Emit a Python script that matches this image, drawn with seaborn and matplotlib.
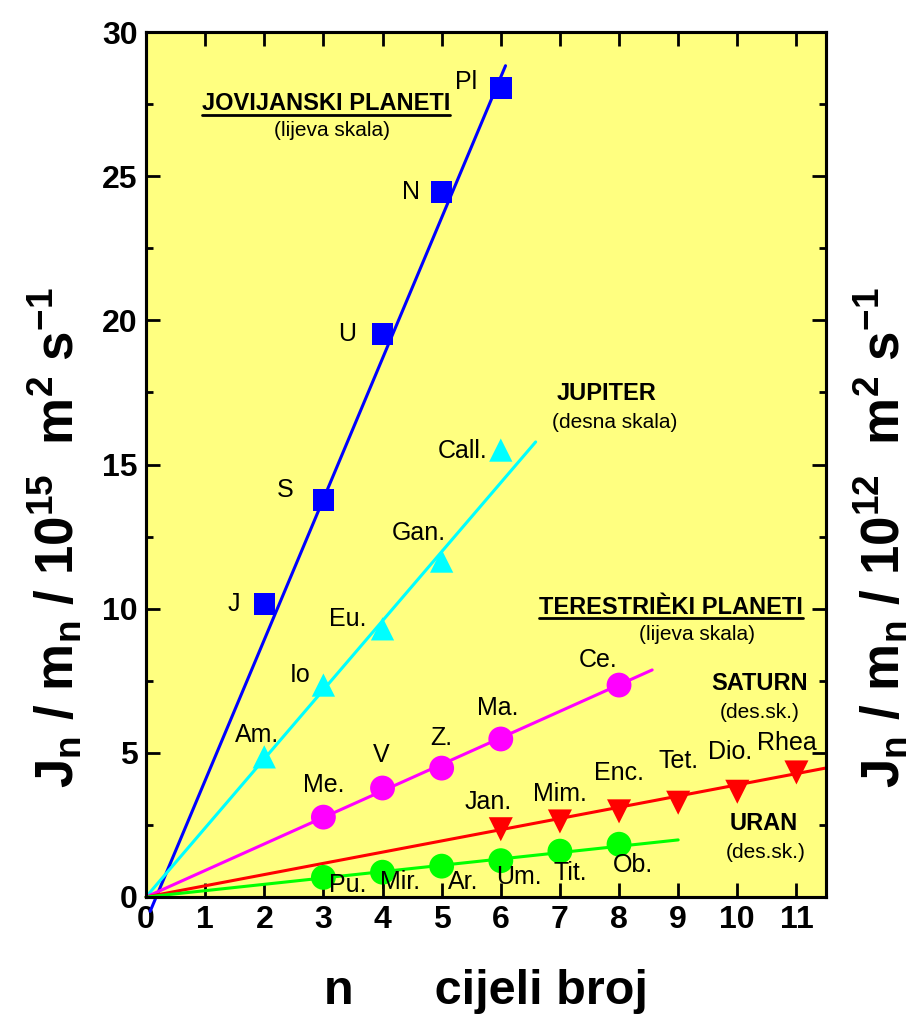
import numpy as np
import pandas as pd
import matplotlib
matplotlib.use("Agg")
import matplotlib.pyplot as plt
import seaborn as sns
from matplotlib.lines import Line2D
from matplotlib.transforms import IdentityTransform

# ---------------- data ----------------
jov_n = [2, 3, 4, 5, 6]
jov_v = [10.16, 13.77, 19.53, 24.45, 28.06]
jov_lab = ["J", "S", "U", "N", "Pl"]

jup_n = [2, 3, 4, 5, 6]
jup_v = [4.86, 7.35, 9.30, 11.65, 15.50]
jup_lab = ["Am.", "Io", "Eu.", "Gan.", "Call."]

ter_n = [3, 4, 5, 6, 8]
ter_v = [2.77, 3.78, 4.47, 5.48, 7.35]
ter_lab = ["Me.", "V", "Z.", "Ma.", "Ce."]

sat_n = [6, 7, 8, 9, 10, 11]
sat_v = [2.35, 2.62, 2.97, 3.27, 3.65, 4.32]
sat_lab = ["Jan.", "Mim.", "Enc.", "Tet.", "Dio.", "Rhea"]

ura_n = [3, 4, 5, 6, 7, 8]
ura_v = [0.68, 0.86, 1.07, 1.26, 1.59, 1.83]
ura_lab = ["Pu.", "Mir.", "Ar.", "Um.", "Tit.", "Ob."]

# fitted lines: slope, intercept, x-range
fit_slope = [4.88, 2.395, 0.92, 0.389, 0.22]
fit_icpt = [-0.84, 0.0, 0.0, 0.0, 0.0]
fit_x0 = [0.07, 0.0, 0.0, 0.0, 0.0]
fit_x1 = [6.08, 6.59, 8.56, 11.5, 9.0]

x_ticks = list(range(0, 12))
y_ticks = [0, 5, 10, 15, 20, 25, 30]

# ---------------- style ----------------
sns.set_style("ticks")
plt.rcParams['font.family'] = ['Liberation Sans', 'DejaVu Sans']
plt.rcParams['mathtext.fontset'] = 'custom'
plt.rcParams['mathtext.rm'] = 'Liberation Sans'
plt.rcParams['mathtext.bf'] = 'Liberation Sans:bold'
plt.rcParams['mathtext.it'] = 'Liberation Sans:italic'
for k in ['text.color', 'axes.labelcolor', 'xtick.color', 'ytick.color',
          'axes.edgecolor']:
    plt.rcParams[k] = 'black'

colors = ["#0000FF", "#00FFFF", "#FF00FF", "#FF0000", "#00FF00"]
markers = ["s", "^", "o", "v", "o"]
msizes = [240, 280, 320, 300, 320]

fig = plt.figure(figsize=(9.23, 10.18), dpi=100)
ax = fig.add_axes([146/923, 1-897/1018, (826-146)/923, (897-32)/1018])
ax.set_facecolor("#FFFF80")

groups = [
    (jov_n, jov_v, jov_lab),
    (jup_n, jup_v, jup_lab),
    (ter_n, ter_v, ter_lab),
    (sat_n, sat_v, sat_lab),
    (ura_n, ura_v, ura_lab),
]

# fit lines
for i in range(5):
    xs = np.array([fit_x0[i], fit_x1[i]])
    ys = fit_slope[i] * xs + fit_icpt[i]
    df_l = pd.DataFrame({"x": xs, "y": ys})
    sns.lineplot(data=df_l, x="x", y="y", ax=ax, color=colors[i], lw=2.2,
                 zorder=3)
for ln in ax.get_lines():
    ln.set_clip_on(False)

# markers
for i, (xn, yv, labs) in enumerate(groups):
    df = pd.DataFrame({"n": xn, "v": yv})
    sns.scatterplot(data=df, x="n", y="v", ax=ax, marker=markers[i],
                    s=msizes[i], color=colors[i], edgecolor="none",
                    linewidth=0, zorder=4)

# point labels (pixel offsets dx, dy; image-y down)
offs = [
    [(-30, 0), (-38, -10), (-35, 0), (-31, 0), (-35, -6)],
    [(-7, -22), (-23, -10), (-35, -10), (-23, -28), (-38, 1)],
    [(0, -32), (-1, -33), (0, -30), (-3, -31), (-21, -25)],
    [(-13, -27), (0, -27), (0, -38), (0, -42), (-7, -40), (-10, -29)],
    [(24, 8), (18, 10), (22, 16), (18, 16), (10, 22), (14, 21)],
]
for i, (xn, yv, labs) in enumerate(groups):
    for j in range(len(xn)):
        dx, dy = offs[i][j]
        ax.annotate(labs[j], (xn[j], yv[j]), xytext=(dx*0.72, -dy*0.72),
                    textcoords="offset points", ha="center", va="center",
                    fontsize=18, zorder=6)

# group titles
titles = [
    ("JOVIJANSKI PLANETI", "(lijeva skala)", 326, 104, 332, 130, True),
    ("JUPITER", "(desna skala)", 607, 393, 615, 423, False),
    ("TERESTRIÈKI PLANETI", "(lijeva skala)", 671, 607, 697, 635, True),
    ("SATURN", "(des.sk.)", 760, 684, 760, 712, False),
    ("URAN", "(des.sk.)", 764, 824, 766, 853, False),
]
title_texts = []
for t1, t2, x1, y1, x2, y2, ul in titles:
    tt = fig.text(x1/923, 1-y1/1018, t1, ha="center", va="center",
                  fontsize=17, fontweight="bold", zorder=7)
    fig.text(x2/923, 1-y2/1018, t2, ha="center", va="center", fontsize=15,
             zorder=7)
    if ul:
        title_texts.append(tt)

# axes
ax.set_xlim(0, 11.5)
ax.set_ylim(0, 30)
ax.set_xticks(x_ticks)
ax.set_yticks(y_ticks)
ax.set_yticks(np.arange(2.5, 30, 5), minor=True)
ax.tick_params(axis="both", which="major", direction="in", length=10, width=2,
               labelsize=23, top=True, right=True, pad=6)
ax.tick_params(axis="y", which="minor", direction="in", length=5, width=2,
               right=True, left=True)
for lab in ax.get_xticklabels() + ax.get_yticklabels():
    lab.set_fontweight("bold")
for sp in ax.spines.values():
    sp.set_linewidth(2.2)
    sp.set_visible(True)

ax.set_xlabel("n      cijeli broj", fontsize=35, fontweight="bold", labelpad=24)
ax.set_ylabel(r"$\mathbf{J_n\ /\ m_n\ /\ 10^{15}\ \ m^2\ s^{-1}}$",
              fontsize=38)
ax.yaxis.set_label_coords(-0.09, 0.416)

ax2 = ax.twinx()
ax2.set_ylim(0, 30)
ax2.set_yticks(y_ticks)
ax2.set_yticks(np.arange(2.5, 30, 5), minor=True)
ax2.tick_params(axis="y", which="major", direction="in", length=10, width=2,
                labelright=False)
ax2.tick_params(axis="y", which="minor", direction="in", length=5, width=2)
ax2.set_ylabel(r"$\mathbf{J_n\ /\ m_n\ /\ 10^{12}\ \ m^2\ s^{-1}}$",
               fontsize=38)
ax2.yaxis.set_label_coords(1.038, 0.416)
for sp in ax2.spines.values():
    sp.set_linewidth(2.2)

# underline titles
fig.canvas.draw()
r = fig.canvas.get_renderer()
for tt in title_texts:
    bb = tt.get_window_extent(renderer=r)
    fig.add_artist(Line2D([bb.x0, bb.x1], [bb.y0 + 1, bb.y0 + 1],
                          transform=IdentityTransform(), color="black", lw=2))

fig.savefig("out.png", dpi=100, facecolor="white")
